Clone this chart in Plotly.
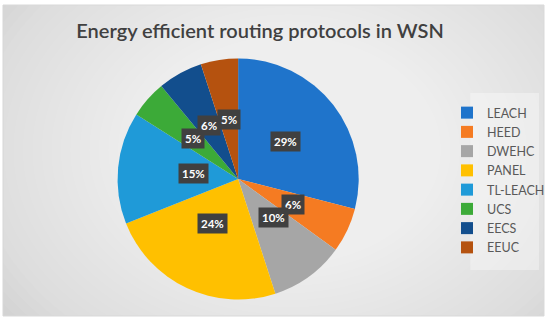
import plotly.graph_objects as go
import math

# ---- data ----
labels = ["LEACH", "HEED", "DWEHC", "PANEL", "TL-LEACH", "UCS", "EECS", "EEUC"]
values = [29, 6, 10, 24, 15, 5, 6, 5]
colors = ["#1F74CB", "#F57B22", "#A6A6A6", "#FFC000", "#1F9AD8", "#3CAA38", "#124E8D", "#B5520F"]
title_text = "Energy efficient routing protocols in WSN"

W, H = 550, 320
CX, CY, R = 239, 179, 121  # pie centre / radius in px

def px(x):
    return x / W

def py(y):
    return 1 - y / H

fig = go.Figure()
fig.add_trace(go.Pie(
    labels=labels, values=values, sort=False, direction="clockwise", rotation=0,
    marker=dict(colors=colors, line=dict(width=0)),
    textinfo="none", hoverinfo="label+percent",
    domain=dict(x=[px(CX - R), px(CX + R)], y=[py(CY + R), py(CY - R)]),
))

# ---- background: chart area with radial gradient approximation ----
shapes = []
shapes.append(dict(type="rect", xref="paper", yref="paper", x0=px(3), x1=px(546), y0=py(316), y1=py(5),
                   fillcolor="#c8c8c8", line=dict(width=0), layer="below"))
N = 40
GX, GY = 290, 150
for i in range(N):
    rx = 400 - i * (380 / N)
    ry = rx * 0.75
    shapes.append(dict(type="circle", xref="paper", yref="paper",
                       x0=px(GX - rx), x1=px(GX + rx),
                       y0=py(GY + ry), y1=py(GY - ry),
                       fillcolor="white", opacity=0.055, line=dict(width=0), layer="below"))
# white outside the chart area (mask ellipse overflow)
shapes += [
    dict(type="rect", xref="paper", yref="paper", x0=0, x1=1, y0=py(5), y1=1, fillcolor="white", line=dict(width=0), layer="below"),
    dict(type="rect", xref="paper", yref="paper", x0=0, x1=1, y0=0, y1=py(316), fillcolor="white", line=dict(width=0), layer="below"),
    dict(type="rect", xref="paper", yref="paper", x0=0, x1=px(3), y0=0, y1=1, fillcolor="white", line=dict(width=0), layer="below"),
    dict(type="rect", xref="paper", yref="paper", x0=px(546), x1=1, y0=0, y1=1, fillcolor="white", line=dict(width=0), layer="below"),
]
# border
shapes.append(dict(type="rect", xref="paper", yref="paper", x0=px(3), x1=px(546), y0=py(316), y1=py(5),
                   fillcolor="rgba(0,0,0,0)", line=dict(width=1, color="#d9d9d9"), layer="below"))
# legend panel
shapes.append(dict(type="rect", xref="paper", yref="paper", x0=px(472), x1=px(541), y0=py(270), y1=py(93),
                   fillcolor="rgba(255,255,255,0.35)", line=dict(width=0), layer="below"))

# ---- data labels at half radius, dark boxes ----
annotations = []
total = sum(values)
cum = 0
for v in values:
    mid = (cum + v / 2) / total * 2 * math.pi
    cum += v
    x = CX + 0.5 * R * math.sin(mid)
    y = CY - 0.5 * R * math.cos(mid)
    txt = f"{round(v / total * 100)}%"
    annotations.append(dict(x=px(x), y=py(y), xref="paper", yref="paper", text=f"<b>{txt}</b>",
                            showarrow=False, font=dict(family="Lato", size=11.5, color="white"),
                            bgcolor="#404040", borderpad=3))

fig.update_layout(
    width=W, height=H, autosize=False,
    margin=dict(l=0, r=0, t=0, b=0),
    paper_bgcolor="white",
    title=dict(text=title_text, x=px(261), y=py(31), xref="paper", yref="paper",
               xanchor="center", yanchor="middle",
               font=dict(family="Lato", size=20, color="#404040", weight=600)),
    showlegend=True,
    legend=dict(x=px(449), xanchor="left", y=py(180), yanchor="middle",
                bgcolor="rgba(0,0,0,0)", font=dict(family="Lato", size=12.5, color="#595959"),
                traceorder="normal"),
    shapes=shapes,
    annotations=annotations,
)

fig.write_html("out.html", config={"displayModeBar": False},
               post_script="document.body.style.margin='0';")
